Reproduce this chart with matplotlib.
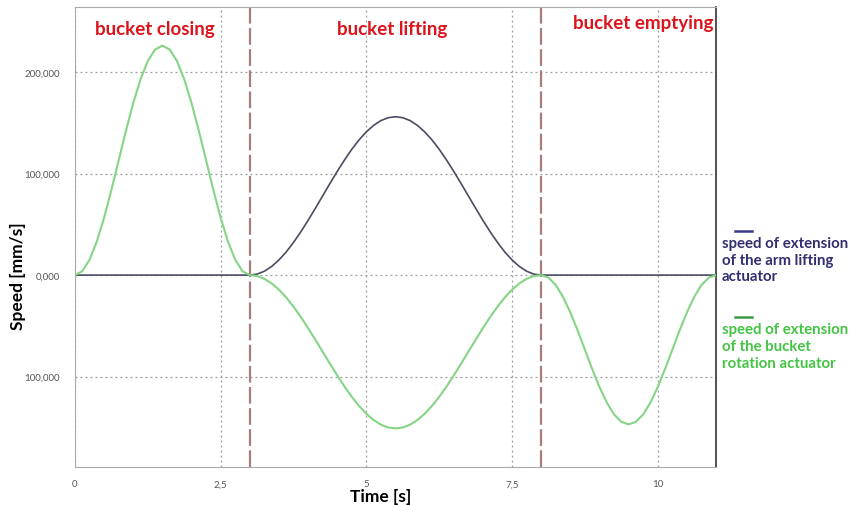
import numpy as np
import matplotlib
matplotlib.use("Agg")
import matplotlib.pyplot as plt

# time samples [s], every 0.125 s from 0 to 11
time = np.round(np.arange(0, 11.0001, 0.125), 3)

# speeds [mm/s], one list per phase (phase ends shared)
closing_bucket = [0, 3800, 15100, 33100, 56500, 83800, 113000, 142200, 169500, 192900, 210900, 222200,
                  226000, 222200, 210900, 192900, 169500, 142200, 113000, 83800, 56500, 33100, 15100, 3800, 0]
lifting_arm = [0, 960, 3800, 8500, 14900, 22800, 32200, 42600, 53900, 65800, 78000, 90200, 102100,
               113400, 123900, 133200, 141100, 147500, 152200, 155000, 156000, 155000, 152200, 147500,
               141100, 133200, 123900, 113400, 102100, 90200, 78000, 65800, 53900, 42600, 32200,
               22800, 14900, 8500, 3800, 960, 0]
lifting_bucket = [0, -930, -3700, -8200, -14400, -22100, -31100, -41200, -52200, -63700, -75500,
                  -87300, -98800, -109800, -119900, -128900, -136600, -142800, -147300, -150100, -151000,
                  -150100, -147300, -142800, -136600, -128900, -119900, -109800, -98800, -87300, -75500,
                  -63700, -52200, -41200, -31100, -22100, -14400, -8200, -3700, -930, 0]
emptying_bucket = [0, -2500, -9800, -21500, -36800, -54500, -73500, -92500, -110300, -125500, -137200,
                   -144500, -147000, -144500, -137200, -125500, -110300, -92500, -73500, -54500, -36800,
                   -21500, -9800, -2500, 0]

arm_speed = [0] * 24 + lifting_arm + [0] * 24
bucket_speed = closing_bucket[:-1] + lifting_bucket[:-1] + emptying_bucket

phase_limits = [3, 8]
phase_names = ["bucket closing", "bucket lifting", "bucket emptying"]
phase_label_x = [1.37, 5.45, 9.75]
phase_label_y = [243000, 243000, 249000]

x_ticks = [0, 2.5, 5, 7.5, 10]
x_tick_labels = ["0", "2,5", "5", "7,5", "10"]
y_ticks = [-100000, 0, 100000, 200000]
y_tick_labels = ["100,000", "0,000", "100,000", "200,000"]

ARM_COLOR = "#4b4b63"
BUCKET_COLOR = "#86d486"
RED = "#dc141c"

plt.rcParams["font.family"] = ["Lato", "DejaVu Sans"]

fig = plt.figure(figsize=(8.51, 5.06), dpi=100)
ax = fig.add_axes([0.0881, 0.0751, 0.7533, 0.909])

ax.plot(time, arm_speed, color=ARM_COLOR, lw=1.2, zorder=3)
ax.plot(time, bucket_speed, color=BUCKET_COLOR, lw=1.5, zorder=3)

for xl in phase_limits:
    ax.axvline(xl, color="#a87c7c", lw=1.6, ls=(0, (7.5, 2)), zorder=2)

ax.set_xlim(0, 11)
ax.set_ylim(-189000, 264000)
ax.set_xticks(x_ticks)
ax.set_xticklabels(x_tick_labels)
ax.set_yticks(y_ticks)
ax.set_yticklabels(y_tick_labels)
ax.tick_params(length=0, labelsize=7, labelcolor="#555555")
ax.tick_params(axis="x", pad=9)
ax.tick_params(axis="y", pad=11)
ax.grid(True, color="#9a9a9a", ls=(0, (1.5, 2.5)), lw=0.9)

for side in ["left", "bottom", "top"]:
    ax.spines[side].set_color("#aaaaaa")
ax.spines["right"].set_color("#333333")
ax.spines["right"].set_linewidth(1.2)

for name, px, py in zip(phase_names, phase_label_x, phase_label_y):
    ax.text(px, py, name, color=RED, fontsize=13.5, fontweight="bold",
            ha="center", va="center")

fig.text(0.447, 0.018, "Time [s]", fontsize=12.5, fontweight="bold",
         ha="center", va="center")
fig.text(0.021, 0.455, "Speed [mm/s]", fontsize=12.5, fontweight="bold",
         ha="center", va="center", rotation=90)

# legend drawn as text on the right
fig.add_artist(plt.Line2D([0.864, 0.884], [0.542, 0.542], color="#3a3a8a", lw=1.8))
fig.text(0.848, 0.532, "speed of extension\nof the arm lifting\nactuator",
         color="#2f2f6f", fontsize=10.8, fontweight="bold", va="top", ha="left",
         linespacing=1.25)
fig.add_artist(plt.Line2D([0.864, 0.884], [0.372, 0.372], color="#3a9a4a", lw=1.8))
fig.text(0.848, 0.361, "speed of extension\nof the bucket\nrotation actuator",
         color="#44c444", fontsize=10.8, fontweight="bold", va="top", ha="left",
         linespacing=1.25)

fig.savefig("out.png", dpi=100)
